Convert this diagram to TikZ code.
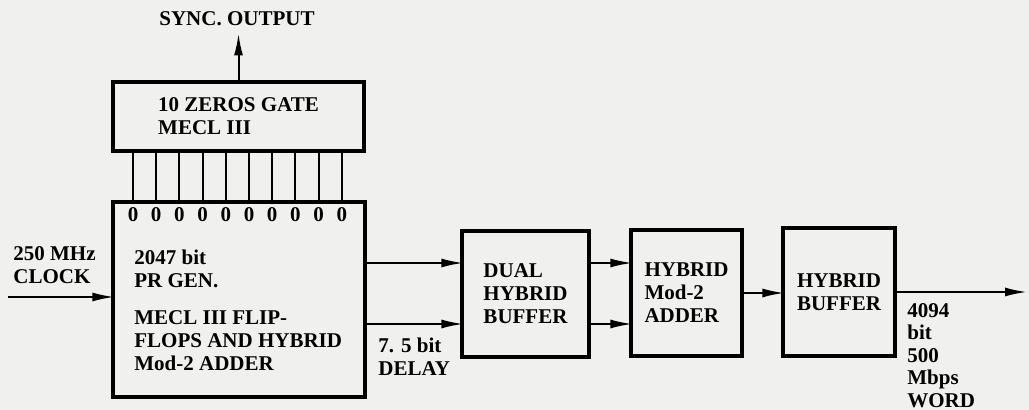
\documentclass[tikz,border=0pt]{standalone}
\usepackage{fontspec}
\setmainfont{Liberation Serif}
\usetikzlibrary{arrows.meta,positioning}
\definecolor{paper}{HTML}{F0F0EE}
\tikzset{
  blk/.style={draw,line width=1.7pt,inner sep=0pt,align=left,font=\bfseries\fontsize{10.5}{11.5}\selectfont},
  lbl/.style={inner sep=0pt,align=left,font=\bfseries\fontsize{10.5}{11.5}\selectfont},
  wire/.style={line width=1pt},
  ar/.style={-{Latex[length=11pt,width=4.5pt]},line width=1pt,shorten >=-1.5pt}
}
\begin{document}
\begin{tikzpicture}[x=0.5pt,y=-0.5pt]
\fill[paper] (0,0) rectangle (1029,410);
\useasboundingbox (0,0) rectangle (1029,410);
% blocks
\node[blk,minimum width=125.5pt,minimum height=34.5pt] (gate) at (238.5,116.5) {10 ZEROS GATE\\MECL III};
\node[blk,minimum width=126pt,minimum height=97.5pt] (gen) at (239,299.5) {};
\node[lbl,anchor=north west] (gentxt) at (134,250) {2047 bit\\PR GEN.\\[7pt]MECL III FLIP-\\FLOPS AND HYBRID\\Mod-2 ADDER};
\node[blk,minimum width=63.5pt,minimum height=63pt] (dual) at (525.5,294) {DUAL\\HYBRID\\BUFFER};
\node[blk,minimum width=55.5pt,minimum height=63pt] (adder) at (686.5,293) {HYBRID\\Mod-2\\ADDER};
\node[blk,minimum width=56pt,minimum height=64pt] (buf) at (839,292) {HYBRID\\BUFFER};
% labels
\node[lbl] (sync) at (237,19) {SYNC. OUTPUT};
\node[lbl,anchor=north west] (clktxt) at (13,246) {250 MHz\\CLOCK};
\node[lbl,anchor=north west] (dly) at (378,338) {7. 5 bit\\DELAY};
\node[lbl,anchor=north west,font=\bfseries\fontsize{10.5}{11.25}\selectfont] (word) at (907,303) {4094\\bit\\500\\Mbps\\WORD};
% ten taps
\foreach \i in {0,...,9}{
  \coordinate (c\i) at ({133+23.2*\i},215);
  \draw[wire] (gate.south -| c\i) -- (gen.north -| c\i);
  \node[lbl] (z\i) at (c\i) {0};
}
% connectors
\coordinate (clk) at (8,297);
\coordinate (d1) at ([yshift=15.5pt]dual.west);
\coordinate (d2) at ([yshift=-15pt]dual.west);
\coordinate (out) at (1027,291);
\draw[ar,shorten >=3.5pt] (gate.north) -- (gate.north |- sync.south);
\draw[ar] (clk) -- (gen.west |- clk);
\draw[ar] (gen.east |- d1) -- (d1);
\draw[ar] (gen.east |- d2) -- (d2);
\draw[ar] (dual.east |- d1) -- (adder.west |- d1);
\draw[ar] (dual.east |- d2) -- (adder.west |- d2);
\draw[ar] (adder.east) -- (buf.west |- adder.east);
\draw[ar,shorten >=0pt] (buf.east) -- (buf.east -| out);
\end{tikzpicture}
\end{document}
